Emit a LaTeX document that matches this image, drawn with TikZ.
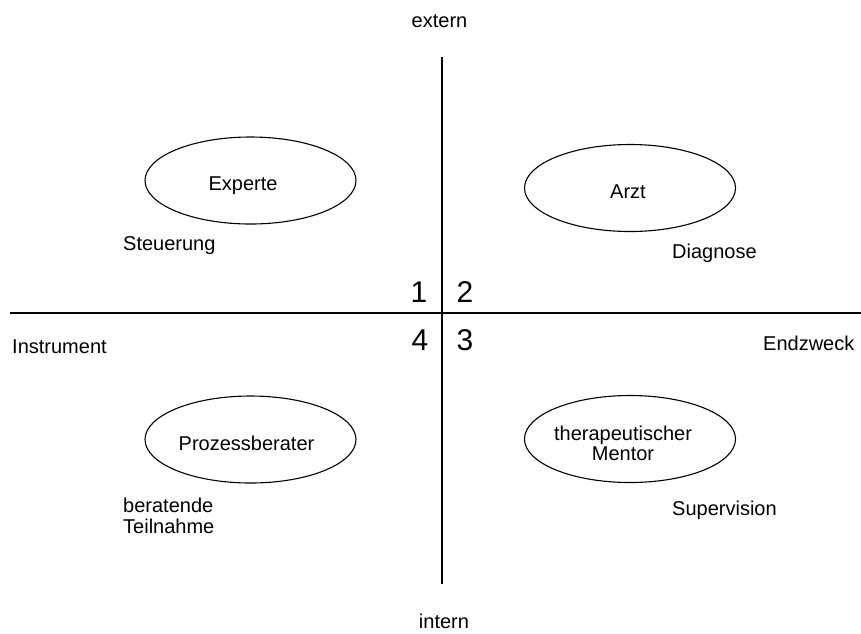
\documentclass[tikz,border=0pt]{standalone}
\usepackage{fontspec}
\setmainfont{Liberation Sans}
\usetikzlibrary{shapes.geometric}
\begin{document}
\begin{tikzpicture}[x=1pt,y=-1pt,
  axis/.style={line width=1.1pt,black},
  oval/.style={draw,ellipse,line width=1.1pt,minimum width=211pt,minimum height=87pt,inner sep=0pt},
  txt/.style={font=\fontsize{20}{24}\selectfont,inner sep=0pt,anchor=base},
  txtw/.style={font=\fontsize{20}{24}\selectfont,inner sep=0pt,anchor=base west},
  num/.style={font=\fontsize{30}{36}\selectfont,inner sep=0pt,anchor=base}]
\useasboundingbox (0,0) rectangle (861,633);
% axes
\coordinate (vt) at (442,57);
\coordinate (vb) at (442,584);
\coordinate (hl) at (10,313);
\coordinate (hr) at (861,313);
\draw[axis] (vt) -- (vb);
\draw[axis] (hl) -- (hr);
% ellipses
\node[oval] (e1) at (250.5,180.5) {};
\node[oval] (e2) at (630,188) {};
\node[oval] (e3) at (250.5,439.5) {};
\node[oval] (e4) at (630,439) {};
% texts in ellipses
\node[txt] (t1) at (243,190) {Experte};
\node[txt] (t2) at (628,198) {Arzt};
\node[txt] (t3) at (246.5,450) {Prozessberater};
\node[txt] (t4a) at (623,440) {therapeutischer};
\node[txt] (t4b) at (623,460) {Mentor};
% labels
\node[txtw] (l1) at (123,250) {Steuerung};
\node[txtw] (l2) at (672,258) {Diagnose};
\node[txtw] (l3a) at (123,512) {beratende};
\node[txtw] (l3b) at (123,533) {Teilnahme};
\node[txtw] (l4) at (672,515) {Supervision};
% axis labels
\node[txt] (ext) at (439.5,27) {extern};
\node[txt] (int) at (444,628) {intern};
\node[txtw] (ins) at (12,353) {Instrument};
\node[txtw] (end) at (763,350) {Endzweck};
% numbers
\node[num] (n1) at (419,302) {1};
\node[num] (n2) at (465,302) {2};
\node[num] (n4) at (420,350) {4};
\node[num] (n3) at (465,350) {3};
\end{tikzpicture}
\end{document}
